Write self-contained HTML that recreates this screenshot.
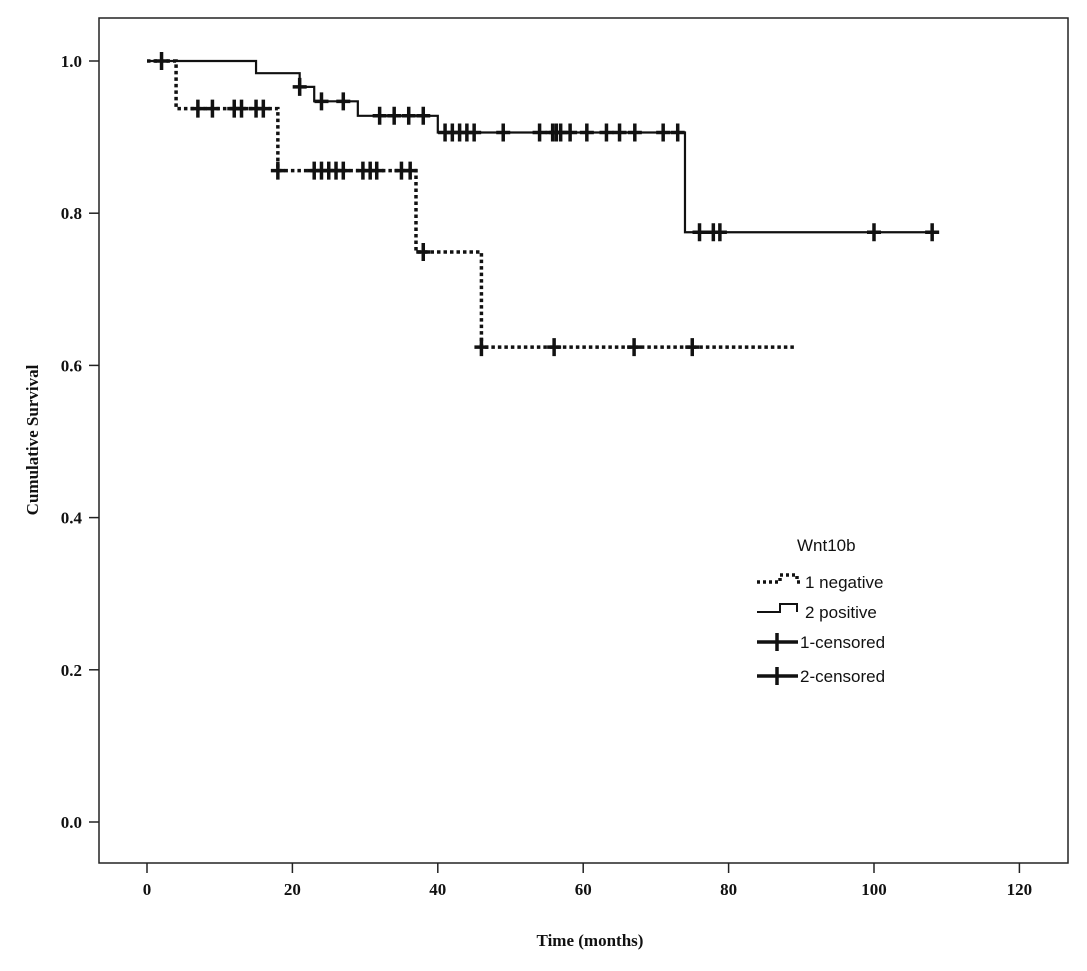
<!DOCTYPE html>
<html><head><meta charset="utf-8">
<style>
html,body{margin:0;padding:0;background:#fff;}
svg{display:block;}
.tk{font-family:"Liberation Serif",serif;font-weight:bold;font-size:17px;fill:#111;}
.lg{font-family:"Liberation Sans",sans-serif;font-size:17px;fill:#111;}
</style></head>
<body>
<svg id="chart" width="1087" height="971" viewBox="0 0 1087 971" xmlns="http://www.w3.org/2000/svg">
<rect x="99" y="18" width="969" height="845" fill="none" stroke="#222" stroke-width="1.5"/>
<g id="axes"></g>
<g id="series"></g>
<text class="tk" transform="translate(38,440) rotate(-90)" text-anchor="middle">Cumulative Survival</text>
<text class="tk" x="590" y="946" text-anchor="middle">Time (months)</text>
<g>
<text class="lg" x="797" y="551">Wnt10b</text>
<path d="M757,582 H780 V575 H797 V582 H800" fill="none" stroke="#111" stroke-width="3.5" stroke-dasharray="3,3"/>
<text class="lg" x="805" y="588">1 negative</text>
<path d="M757,612 H780 V604 H797 V612" fill="none" stroke="#111" stroke-width="2"/>
<text class="lg" x="805" y="618">2 positive</text>
<path d="M757,642 H798 M777,633 V651" fill="none" stroke="#111" stroke-width="3.5"/>
<text class="lg" x="800" y="648">1-censored</text>
<path d="M757,676 H798 M777,667 V685" fill="none" stroke="#111" stroke-width="3.5"/>
<text class="lg" x="800" y="682">2-censored</text>
</g>
</svg>
<script>
const xTicks=[0,20,40,60,80,100,120];
const yTicks=[0.0,0.2,0.4,0.6,0.8,1.0];
// step series: event times and survival after each step
const negTimes=[0,4,18,37,46,89];
const negSurv=[1.0,0.9375,0.856,0.749,0.624,0.624];
const negCensor=[7,9,12,13,15,16,18,23,24,25,26,27,29.7,30.7,31.6,35,36.2,38,46,56,67,75];
const posTimes=[0,15,21,23,29,40,74,108];
const posSurv=[1.0,0.984,0.966,0.947,0.928,0.906,0.775,0.775];
const posCensor=[2,21,24,27,32,34,36,38,41,42,43,44,45,49,54,55.8,56.3,56.9,58.2,60.5,63.2,65,67.1,71,73,76,77.9,78.8,100,108];

const X=v=>147+v*7.27;
const Y=v=>822-v*761;
const NS='http://www.w3.org/2000/svg';
function mk(tag,attrs,parent){const e=document.createElementNS(NS,tag);for(const k in attrs)e.setAttribute(k,attrs[k]);parent.appendChild(e);return e;}
const axes=document.getElementById('axes');
xTicks.forEach(t=>{
 const l=mk('line',{x1:X(t),x2:X(t),y1:863,y2:873,stroke:'#222','stroke-width':1.5},axes);
 
 
 const tx=mk('text',{x:X(t),y:895,'text-anchor':'middle','class':'tk'},axes);
 
 
 tx.textContent=t;
});
yTicks.forEach(t=>{
 const l=mk('line',{x1:89,x2:99,y1:Y(t),y2:Y(t),stroke:'#222','stroke-width':1.5},axes);
 
 
 const tx=mk('text',{x:82,y:Y(t)+6,'text-anchor':'end','class':'tk'},axes);
 
 
 tx.textContent=t.toFixed(1);
});
function survAt(times,surv,t){let s=surv[0];for(let i=0;i<times.length;i++){if(times[i]<=t)s=surv[i];}return s;}
function drawSeries(times,surv,cens,name,dash){
 const g=document.getElementById('series');
 let d='M'+X(times[0])+','+Y(surv[0]);
 for(let i=1;i<times.length;i++){d+=' H'+X(times[i])+' V'+Y(surv[i]);}
 const p=mk('path',{d:d,fill:'none',stroke:'#111','stroke-width':dash?3.5:2.2},g);
 if(dash)p.setAttribute('stroke-dasharray','3.5,3');
 
 
 cens.forEach(c=>{
  const y=Y(survAt(times,surv,c));
  const m=mk('path',{d:'M'+(X(c)-7)+','+y+' H'+(X(c)+7)+' M'+X(c)+','+(y-9)+' V'+(y+9),stroke:'#111','stroke-width':3.5,fill:'none'},g);
  
  
 });
}
drawSeries(posTimes,posSurv,posCensor,'positive',false);
drawSeries(negTimes,negSurv,negCensor,'negative',true);
</script>
</body></html>
